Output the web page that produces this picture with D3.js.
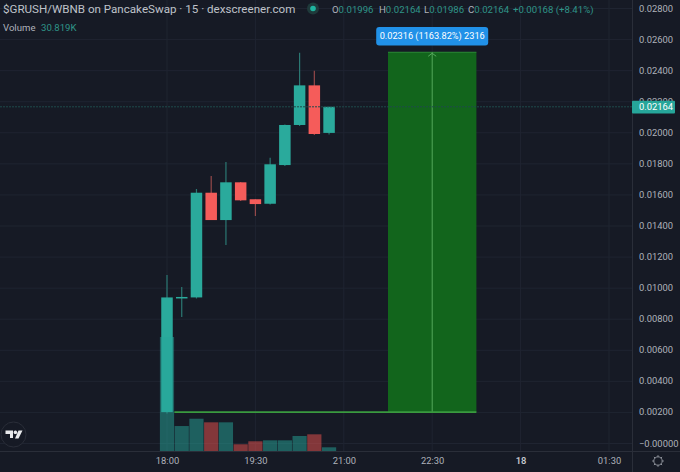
<!DOCTYPE html>
<html><head><meta charset="utf-8">
<script src="https://cdn.jsdelivr.net/npm/d3@7/dist/d3.min.js"></script>
<style>
html,body{margin:0;padding:0;background:#161a25;overflow:hidden}
text{font-family:Roboto,"Noto Sans",sans-serif}
.domain{display:none}
</style></head><body>
<svg id="c" width="680" height="472"></svg>
<script>
const opens  =[0.00199,0.00937,0.00937,0.01611,0.01435,0.01678,0.01569,0.01540,0.01789,0.02047,0.02302,0.01996];
const closes =[0.00937,0.00940,0.01611,0.01435,0.01678,0.01562,0.01538,0.01794,0.02047,0.02302,0.01989,0.02164];
const highs  =[0.01081,0.01004,0.01635,0.01719,0.01809,0.01680,0.01569,0.01836,0.02050,0.02512,0.02396,0.02164];
const lows   =[0.00190,0.00811,0.00930,0.01435,0.01274,0.01558,0.01461,0.01535,0.01783,0.02040,0.01983,0.01986];
const volumes=[950,208,269,239,239,56,81,89,89,125,139,30.819];
const volUp  =[1,1,1,0,1,0,0,1,1,1,0,1];
const priceTicks=[0,0.002,0.004,0.006,0.008,0.010,0.012,0.014,0.016,0.018,0.020,0.022,0.024,0.026,0.028];
const timeTicks=[0,6,12,18,24,30];
const timeLabels=["18:00","19:30","21:00","22:30","18","01:30"];
const lastPrice=0.02164;
const posStart=15,posEnd=21,posLow=0.00199,posHigh=0.02515;

const svg=d3.select("#c");
const W=680,H=472,axisX=632,axisY=451;
const x=d3.scaleLinear().domain([0,30]).range([167,609]);
const y=d3.scaleLinear().domain([0,0.028]).range([443,8]);
const v=d3.scaleLinear().domain([0,950]).range([axisY,337]);
const idx=d3.range(opens.length);
const TEAL="#2aaa9c",RED="#f55c5a",GRID="#1f2431",LBL="#aeb2bb",AXF="9.4px";

svg.append("rect").attr("width",W).attr("height",H).attr("fill","#161a25");
// grid
svg.append("g").selectAll("line").data(priceTicks).join("line")
 .attr("x1",0).attr("x2",axisX).attr("y1",d=>y(d)+.5).attr("y2",d=>y(d)+.5).attr("stroke",GRID);
svg.append("g").selectAll("line").data(timeTicks).join("line")
 .attr("x1",d=>x(d)).attr("x2",d=>x(d)).attr("y1",0).attr("y2",axisY).attr("stroke",GRID);

// position box
svg.append("rect").attr("x",x(posStart)).attr("width",x(posEnd)-x(posStart))
 .attr("y",y(posHigh)).attr("height",y(posLow)-y(posHigh)).attr("fill","#12651c");
svg.append("line").attr("x1",x(posStart)).attr("x2",x(posEnd)).attr("y1",y(posHigh)).attr("y2",y(posHigh)).attr("stroke","#2a8a34").attr("stroke-width",1);
const mid=(posStart+posEnd)/2;
svg.append("line").attr("x1",x(mid)).attr("x2",x(mid)).attr("y1",y(posHigh)).attr("y2",y(posLow)).attr("stroke","#55a95c").attr("stroke-width",1);
svg.append("path").attr("d",`M${x(mid)-4},${y(posHigh)+4}L${x(mid)},${y(posHigh)+1}L${x(mid)+4},${y(posHigh)+4}`).attr("fill","none").attr("stroke","#55a95c");

// candles
const cw=11.5;
svg.append("g").selectAll("line").data(idx).join("line")
 .attr("x1",i=>x(i)).attr("x2",i=>x(i)).attr("y1",i=>y(highs[i])).attr("y2",i=>y(lows[i]))
 .attr("stroke",i=>closes[i]>=opens[i]?"#2b7873":"#95494a").attr("stroke-width",1.2);
svg.append("g").selectAll("rect").data(idx).join("rect")
 .attr("x",i=>x(i)-cw/2).attr("width",cw)
 .attr("y",i=>y(Math.max(opens[i],closes[i])))
 .attr("height",i=>Math.max(1.5,Math.abs(y(opens[i])-y(closes[i]))))
 .attr("fill",i=>closes[i]>=opens[i]?TEAL:RED);

// volumes
const vw=14.2;
svg.append("g").selectAll("rect").data(idx).join("rect")
 .attr("x",i=>x(i)-vw/2).attr("width",vw)
 .attr("y",i=>v(volumes[i])).attr("height",i=>axisY-v(volumes[i]))
 .attr("fill",i=>volUp[i]?"rgba(38,166,154,.5)":"rgba(239,83,80,.5)");

// position baseline
svg.append("line").attr("x1",x(0.5)).attr("x2",x(posEnd)).attr("y1",y(posLow)).attr("y2",y(posLow)).attr("stroke","#3a9a3f").attr("stroke-width",1.6);

// last-price line
svg.append("line").attr("x1",0).attr("x2",axisX).attr("y1",y(lastPrice)).attr("y2",y(lastPrice))
 .attr("stroke","#1f4a4a").attr("stroke-width",1).attr("stroke-dasharray","2 1");

// axes frame
svg.append("line").attr("x1",axisX+.5).attr("x2",axisX+.5).attr("y1",0).attr("y2",H).attr("stroke","#2a2e39");
svg.append("line").attr("x1",0).attr("x2",W).attr("y1",axisY+.5).attr("y2",axisY+.5).attr("stroke","#2a2e39");

// price axis (the 0.02200 tick sits behind the last-price tag in the reference)
const pa=svg.append("g").attr("transform",`translate(${axisX},0)`)
 .call(d3.axisRight(y).tickValues(priceTicks).tickSize(0).tickPadding(7)
 .tickFormat(d=>d===0?"\u22120.00000":d3.format(".5f")(d)));
pa.selectAll("text").attr("fill",LBL).style("font-size",AXF);
// time axis
const ta=svg.append("g").attr("transform",`translate(0,${axisY})`)
 .call(d3.axisBottom(x).tickValues(timeTicks).tickSize(0).tickPadding(6)
 .tickFormat((d,i)=>timeLabels[i]));
ta.selectAll("text").attr("fill",LBL).style("font-size",AXF);
ta.selectAll("text").filter(d=>d===24).attr("fill","#c4c7ce").attr("font-weight",600);

// last price label
svg.append("rect").attr("x",axisX).attr("y",y(lastPrice)-6).attr("width",43).attr("height",12.6).attr("rx",1).attr("fill","#26a69a");
svg.append("text").attr("x",639).attr("y",y(lastPrice)+3.5).attr("fill","#fff").style("font-size",AXF).text(d3.format(".5f")(lastPrice));

// position label
svg.append("rect").attr("x",x(mid)-56).attr("y",27).attr("width",112).attr("height",18.5).attr("rx",3).attr("fill","#2191e8");
svg.append("text").attr("x",x(mid)).attr("y",39.3).attr("text-anchor","middle").attr("fill","#fff").style("font-size","9.2px")
 .text(d3.format(".5f")(0.02316)+" (1163.82%) 2316");

// header
const hdr=svg.append("text").attr("x",3).attr("y",13).attr("fill","#bfc2c9").style("font-size","11.6px");
hdr.text("$GRUSH/WBNB on PancakeSwap · 15 · dexscreener.com");
svg.append("text").attr("x",3).attr("y",31).attr("fill",LBL).style("font-size","9.6px").text("Volume");
svg.append("text").attr("x",41).attr("y",31).attr("fill","#2f9488").style("font-size","9.6px").text("30.819K");
svg.append("circle").attr("cx",313).attr("cy",8.5).attr("r",6).attr("fill","#1f3a3b");
svg.append("circle").attr("cx",313).attr("cy",8.5).attr("r",2.8).attr("fill","#1fb5a0");
const ohlc=[["O",opens[11],332],["H",highs[11],379],["L",lows[11],424],["C",closes[11],468]];
ohlc.forEach(([k,val,px])=>{
 const t=svg.append("text").attr("x",px).attr("y",13).style("font-size","9.6px").attr("fill","#2f9488");
 t.append("tspan").attr("fill",LBL).text(k);
 t.append("tspan").text(d3.format(".5f")(val));
});
svg.append("text").attr("x",513).attr("y",13).style("font-size","9.6px").attr("fill","#2f9488").text("+0.00168 (+8.41%)");

// TV logo
const logo=svg.append("g").attr("transform","translate(13.5,434.5)");
logo.append("circle").attr("r",12.5).attr("fill","#161a25").attr("stroke","#2a2e39");
logo.append("path").attr("fill","#e8e9ec").attr("d","M-8,-4H-0.5V3.5H-3.5V-0.5H-8ZM1.9,-4a1.8,1.8 0 1 0 .01,0ZM5,-4H9L5,4H1.5Z");

// gear
const gear=svg.append("g").attr("transform","translate(658,461)").attr("stroke","#8f939c").attr("fill","none");
gear.append("circle").attr("r",4.2);
gear.selectAll("line").data(d3.range(8)).join("line")
 .attr("x1",d=>4.2*Math.cos(d*Math.PI/4)).attr("y1",d=>4.2*Math.sin(d*Math.PI/4))
 .attr("x2",d=>5.8*Math.cos(d*Math.PI/4)).attr("y2",d=>5.8*Math.sin(d*Math.PI/4));
</script></body></html>
